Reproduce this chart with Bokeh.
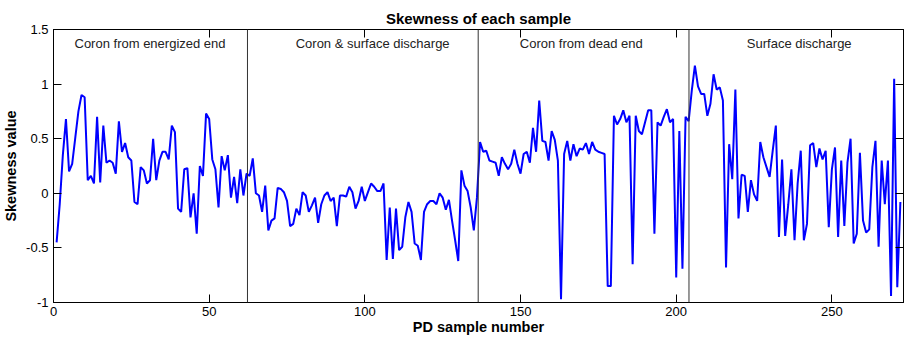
from bokeh.plotting import figure
from bokeh.models import (Span, Label, LinearAxis, Range1d, FixedTicker, CustomJSTickFormatter,
                          ColumnDataSource, CustomLabelingPolicy)
from bokeh.embed import file_html
from bokeh.resources import INLINE

# ---- data ----
skewness = [
    -0.45, -0.10, 0.35, 0.68, 0.20, 0.27, 0.51, 0.75, 0.90, 0.88,
    0.12, 0.16, 0.09, 0.70, 0.10, 0.62, 0.28, 0.30, 0.28, 0.18,
    0.66, 0.38, 0.46, 0.33, 0.30, -0.08, -0.10, 0.24, 0.21, 0.09,
    0.12, 0.50, 0.12, 0.30, 0.38, 0.38, 0.31, 0.62, 0.56, -0.14,
    -0.17, 0.22, 0.23, -0.22, 0.00, -0.37, 0.25, 0.16, 0.73, 0.68,
    0.31, 0.22, -0.13, 0.34, 0.21, 0.35, -0.04, 0.15, -0.09, 0.22,
    -0.02, 0.18, 0.16, 0.32, 0.00, -0.02, -0.17, 0.07, -0.34, -0.25,
    -0.23, 0.05, 0.04, 0.01, -0.07, -0.30, -0.28, -0.14, -0.20, 0.01,
    -0.02, -0.17, -0.11, -0.04, -0.27, -0.10, -0.02, 0.01, -0.07, -0.04,
    -0.30, -0.02, -0.02, -0.03, 0.06, 0.01, -0.14, -0.07, 0.06, -0.07,
    0.01, 0.09, 0.06, 0.02, 0.02, 0.09, -0.61, -0.13, -0.60, -0.14,
    -0.52, -0.49, -0.22, -0.08, -0.17, -0.46, -0.48, -0.61, -0.17, -0.10,
    -0.07, -0.07, -0.10, 0.00, -0.04, -0.15, -0.06, -0.25, -0.43, -0.62,
    0.21, 0.07, 0.02, -0.13, -0.34, -0.04, 0.47, 0.38, 0.39, 0.30,
    0.29, 0.28, 0.16, 0.33, 0.27, 0.22, 0.27, 0.40, 0.27, 0.18,
    0.36, 0.38, 0.28, 0.60, 0.38, 0.85, 0.48, 0.47, 0.30, 0.57,
    0.49, 0.30, -0.97, 0.36, 0.48, 0.30, 0.45, 0.34, 0.41, 0.40,
    0.46, 0.36, 0.47, 0.40, 0.38, 0.37, 0.36, -0.85, -0.85, 0.71,
    0.63, 0.68, 0.76, 0.65, 0.71, -0.65, 0.71, 0.57, 0.54, 0.65,
    0.76, 0.76, -0.37, 0.65, 0.62, 0.70, 0.77, 0.65, 0.68, -0.77,
    0.57, -0.69, 0.70, 0.66, 0.94, 1.17, 0.98, 0.91, 0.91, 0.71,
    0.82, 1.09, 0.95, 0.97, 0.85, -0.68, 0.45, 0.13, 0.95, -0.23,
    0.17, 0.16, -0.17, 0.12, -0.01, -0.07, 0.47, 0.33, 0.24, 0.15,
    0.39, 0.62, -0.40, 0.31, -0.39, -0.10, 0.22, -0.43, 0.09, 0.39,
    -0.43, -0.28, 0.44, 0.46, 0.24, 0.41, 0.31, 0.39, -0.31, 0.22,
    0.42, -0.40, 0.30, -0.30, 0.28, 0.50, -0.46, -0.37, 0.37, -0.25,
    -0.36, -0.33, 0.24, 0.48, -0.49, 0.30, -0.10, 0.30, -0.94, 1.05,
    -0.86, -0.08,
]
sample_number = list(range(1, len(skewness) + 1))

region_boundaries = [62.3, 136.4, 204.1]
region_names = ["Coron from energized end", "Coron & surface discharge",
                "Coron from dead end", "Surface discharge"]
region_name_x = [31.0, 102.5, 169.5, 239.5]
region_name_y = 1.37

x_ticks = [0, 50, 100, 150, 200, 250]
y_ticks = [-1, -0.5, 0, 0.5, 1, 1.5]

FONT = "Liberation Sans"

p = figure(width=910, height=338, output_backend="svg", toolbar_location=None,
           x_range=Range1d(0, 273), y_range=Range1d(-1, 1.5),
           min_border_left=52, min_border_right=7, min_border_top=29, min_border_bottom=36)

p.title.text = "Skewness of each sample"
p.title.align = "center"
p.title.text_font = FONT
p.title.text_font_style = "bold"
p.title.text_font_size = "15px"
p.title.text_color = "black"
p.title.standoff = 6

p.grid.visible = False
p.outline_line_color = "black"
p.background_fill_color = "white"
p.border_fill_color = "white"

fmt = CustomJSTickFormatter(code="return tick.toString();")

for ax, ticks in ((p.xaxis[0], x_ticks), (p.yaxis[0], y_ticks)):
    ax.ticker = FixedTicker(ticks=ticks)
    ax.formatter = fmt
    ax.major_tick_in = 8
    ax.major_tick_out = 0
    ax.minor_tick_in = 0
    ax.minor_tick_out = 0
    ax.axis_line_color = "black"
    ax.major_tick_line_color = "black"
    ax.major_label_text_font = FONT
    ax.major_label_text_font_size = "13px"
    ax.major_label_text_color = "black"
    ax.axis_label_text_font = FONT
    ax.axis_label_text_font_style = "bold"
    ax.axis_label_text_font_size = "14.5px"
    ax.axis_label_text_color = "black"

p.xaxis.axis_label = "PD sample number"
p.yaxis.axis_label = "Skewness value"
p.xaxis.major_label_standoff = 4
p.xaxis.axis_label_standoff = 0
p.yaxis.major_label_standoff = 5
p.yaxis.axis_label_standoff = 4

# mirrored ticks on top and right (box on), without labels
no_labels = CustomLabelingPolicy(code="return new Set();")
for loc, ticks in (("above", x_ticks), ("right", y_ticks)):
    ax = LinearAxis(ticker=FixedTicker(ticks=ticks))
    ax.major_label_policy = no_labels
    ax.major_label_text_font_size = "0px"
    ax.major_tick_in = 8
    ax.major_tick_out = 0
    ax.minor_tick_in = 0
    ax.minor_tick_out = 0
    ax.major_label_standoff = 0
    ax.axis_line_color = "black"
    ax.major_tick_line_color = "black"
    p.add_layout(ax, loc)

src = ColumnDataSource(data=dict(x=sample_number, y=skewness))
p.line("x", "y", source=src, line_color="#0000FF", line_width=2)

for b in region_boundaries:
    p.add_layout(Span(location=b, dimension="height", line_color="#333333", line_width=1))

for name, xpos in zip(region_names, region_name_x):
    p.add_layout(Label(x=xpos, y=region_name_y, text=name, text_align="center",
                       text_baseline="middle", text_font=FONT, text_font_size="13px",
                       text_color="#222222"))

open("out.html", "w").write(file_html(p, INLINE))
